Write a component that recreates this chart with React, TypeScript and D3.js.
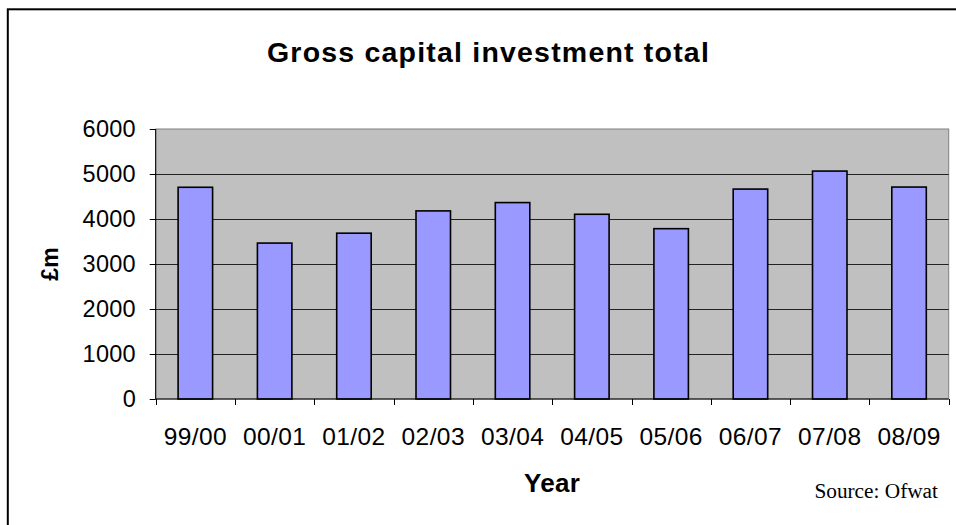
import React from "react";
import * as d3 from "d3";

const categories = ["99/00", "00/01", "01/02", "02/03", "03/04", "04/05", "05/06", "06/07", "07/08", "08/09"];
const values = [4705, 3465, 3685, 4180, 4365, 4105, 3785, 4665, 5065, 4710];
const yTicks = [0, 1000, 2000, 3000, 4000, 5000, 6000];

const W = 956;
const H = 525;
const plot = { left: 155.7, right: 948.7, top: 129, bottom: 399 };
const SANS = "'Liberation Sans', Arial, sans-serif";
const SERIF = "'Liberation Serif', 'Times New Roman', serif";

export default function App() {
  const x = d3.scaleBand<string>().domain(categories).range([plot.left, plot.right]).paddingInner(0.565).paddingOuter(0.2825);
  const xb = d3.scaleLinear().domain([0, categories.length]).range([plot.left, plot.right]);
  const y = d3.scaleLinear().domain([0, 6000]).range([plot.bottom, plot.top]);
  const boundaries = d3.range(categories.length + 1);
  const cx = (plot.left + plot.right) / 2;
  const cy = (plot.top + plot.bottom) / 2;

  return (
    <svg width={W} height={H} style={{ position: "absolute", left: 0, top: 0 }} xmlns="http://www.w3.org/2000/svg">
      <rect x={0} y={0} width={W} height={H} fill="#ffffff" />
      <rect x={7.8} y={9.3} width={W + 20} height={H + 20} fill="none" stroke="#000" strokeWidth={2} />
      <text x={488.5} y={62} textAnchor="middle" fontFamily={SANS} fontWeight="bold" fontSize={28.5} letterSpacing={1.2} fill="#000">
        Gross capital investment total
      </text>
      <rect x={plot.left} y={plot.top} width={plot.right - plot.left} height={plot.bottom - plot.top} fill="#C0C0C0" stroke="#808080" strokeWidth={1} />
      {yTicks.filter((t) => t > 0 && t < 6000).map((t) => (
        <line key={"g" + t} x1={plot.left} x2={plot.right} y1={Math.round(y(t)) + 0.5} y2={Math.round(y(t)) + 0.5} stroke="#222" strokeWidth={1} />
      ))}
      {categories.map((c, i) => (
        <rect key={c} x={x(c)} y={y(values[i])} width={x.bandwidth()} height={plot.bottom - y(values[i])} fill="#9999FF" stroke="#000" strokeWidth={1.6} />
      ))}
      <line x1={plot.left} x2={plot.left} y1={plot.top} y2={plot.bottom} stroke="#000" strokeWidth={1} />
      <line x1={plot.left} x2={plot.right} y1={plot.bottom} y2={plot.bottom} stroke="#000" strokeWidth={1} />
      {yTicks.map((t) => (
        <g key={"y" + t}>
          <line x1={plot.left - 6} x2={plot.left} y1={Math.round(y(t)) + 0.5} y2={Math.round(y(t)) + 0.5} stroke="#000" strokeWidth={1} />
          <text x={136} y={y(t) + 8.3} textAnchor="end" fontFamily={SANS} fontSize={23.5} letterSpacing={0.3} fill="#000">
            {t}
          </text>
        </g>
      ))}
      {boundaries.map((b) => (
        <line key={"b" + b} x1={Math.round(xb(b)) + 0.5} x2={Math.round(xb(b)) + 0.5} y1={plot.bottom} y2={plot.bottom + 6} stroke="#000" strokeWidth={1} />
      ))}
      {categories.map((c) => (
        <text key={"l" + c} x={(x(c) as number) + x.bandwidth() / 2} y={445} textAnchor="middle" fontFamily={SANS} fontSize={24.5} letterSpacing={0.4} fill="#000">
          {c}
        </text>
      ))}
      <text x={cx} y={492} textAnchor="middle" fontFamily={SANS} fontWeight="bold" fontSize={26} letterSpacing={0.3} fill="#000">
        Year
      </text>
      <text transform={`translate(58,${cy}) rotate(-90)`} textAnchor="middle" fontFamily={SANS} fontWeight="bold" fontSize={23} fill="#000">
        £m
      </text>
      <text x={938} y={498} textAnchor="end" fontFamily={SERIF} fontSize={21.3} fill="#000">
        Source: Ofwat
      </text>
    </svg>
  );
}
